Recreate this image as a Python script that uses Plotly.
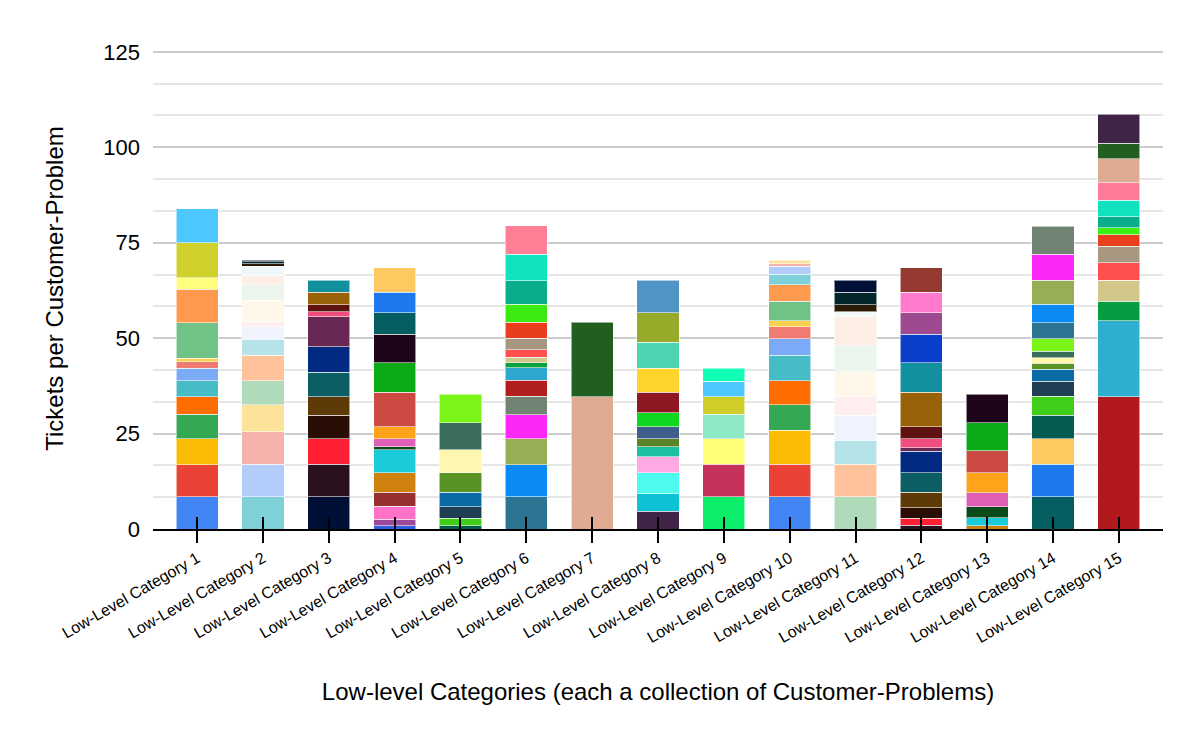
import plotly.graph_objects as go

categories = ['Low-Level Category %d' % i for i in range(1, 16)]

# segment sizes per category, bottom to top (one segment = one Customer-Problem)
cat1_vals = [8.5, 8.3, 6.9, 6.4, 4.5, 4.2, 3.3, 1.7, 0.9, 9.3, 8.8, 3.0, 9.2, 8.9]
cat2_vals = [8.5, 8.4, 8.6, 7.1, 6.2, 6.7, 4.2, 3.3, 1.3, 5.6, 4.1, 2.5, 2.3, 0.7, 0.5, 0.4]
cat3_vals = [8.5, 8.4, 6.8, 6.1, 4.8, 6.4, 6.7, 7.9, 1.3, 1.9, 3.2, 3.2]
cat4_vals = [0.9, 1.7, 3.3, 3.7, 5.2, 5.9, 0.9, 2.1, 3.1, 9.0, 7.8, 7.4, 5.7, 5.3, 6.4]
cat5_vals = [0.8, 2.0, 3.05, 3.75, 5.2, 5.9, 7.1, 7.5]
cat6_vals = [8.5, 8.3, 6.9, 6.2, 4.9, 4.2, 3.2, 1.4, 1.4, 2.0, 3.0, 4.1, 4.8, 6.1, 7.0, 7.4]
cat7_vals = [34.6, 19.6]
cat8_vals = [4.7, 4.6, 5.5, 4.1, 2.7, 2.0, 3.2, 3.7, 5.3, 6.3, 6.8, 7.8, 8.5]
cat9_vals = [8.5, 8.4, 6.8, 6.3, 4.6, 4.1, 3.4]
cat10_vals = [8.5, 8.4, 9.0, 6.7, 6.2, 6.7, 4.4, 3.1, 1.5, 5.2, 4.3, 2.7, 2.1, 0.7, 0.9]
cat11_vals = [8.5, 8.4, 6.4, 6.5, 4.8, 6.6, 6.8, 7.6, 1.3, 1.9, 3.2, 3.2]
cat12_vals = [1.0, 1.8, 2.8, 4.0, 5.2, 5.6, 0.9, 2.3, 3.2, 9.0, 7.8, 7.4, 5.7, 5.3, 6.4]
cat13_vals = [0.8, 2.2, 2.85, 3.65, 5.3, 5.7, 7.3, 7.5]
cat14_vals = [8.5, 8.4, 6.8, 6.1, 5.0, 3.9, 3.1, 1.6, 1.4, 1.8, 3.2, 4.2, 4.9, 6.3, 6.8, 7.3]
cat15_vals = [34.6, 19.9, 5.2, 5.5, 4.5, 4.4, 3.0, 1.8, 2.9, 4.3, 4.6, 6.3, 4.1, 7.5]

# segment colours, bottom to top
cat1_cols = ['#4285F4', '#EA4335', '#FBBC04', '#34A853', '#FF6D01', '#46BDC6', '#7BAAF7',
             '#F07B72', '#FCD04F', '#71C287', '#FF994D', '#FDFD7E', '#D0D12B', '#4DC8FF']
cat2_cols = ['#7ED1D8', '#B3CDFA', '#F6B3AE', '#FDE39A', '#B0DBBA', '#FFC39C', '#B5E3E8',
             '#EEF3FE', '#FFEEF0', '#FFF8EA', '#EBF5EE', '#FFEEE5', '#EEF7FA', '#2A1A06',
             '#03262A', '#000F35']
cat3_cols = ['#000F35', '#2A1120', '#FF1F35', '#2A0E06', '#5E3A07', '#0B5E64', '#012A80',
             '#672953', '#F04E7F', '#5E1212', '#9A6208', '#13909E']
cat4_cols = ['#2E5FE0', '#9D4A9B', '#FF72C8', '#96312F', '#D0820F', '#1ACBD8', '#0A4B1A',
             '#E060B8', '#FFA31A', '#CB4B42', '#0BAA17', '#1E0519', '#055E5F', '#1C7AEE',
             '#FFC961']
cat5_cols = ['#045C50', '#3FCF1A', '#1F3F55', '#0B6BA5', '#579425', '#FFF7B0', '#3A6E5B',
             '#7AF517']
cat6_cols = ['#2B7592', '#0A8AF5', '#98AE55', '#FC28F8', '#718473', '#B11E1E', '#2FA8CF',
             '#06A042', '#D0C789', '#FF4F4F', '#A79680', '#E83D1E', '#3CEB12', '#0AAE8B',
             '#10E3BE', '#FF7F96']
cat7_cols = ['#E0AB93', '#215E20']
cat8_cols = ['#402447', '#0EC2D6', '#4DFBEE', '#FFA8E1', '#1CC0A0', '#5A832A', '#3F5E8C',
             '#0FD61E', '#8D1723', '#FFD42C', '#4FD4B3', '#98AA2A', '#4F94C4']
cat9_cols = ['#0AEE6A', '#C7325A', '#FFFF78', '#8DE8C5', '#D0CF2A', '#4FC8FF', '#0FFDB4']
cat10_cols = ['#4285F4', '#EA4335', '#FBBC04', '#34A853', '#FF6D01', '#46BDC6', '#7BAAF7',
              '#F07B72', '#FCD04F', '#71C287', '#FF994D', '#7ED1D8', '#B3CDFA', '#F6B3AE',
              '#FDE39A']
cat11_cols = ['#B0DBBA', '#FFC39C', '#B5E3E8', '#EEF3FE', '#FFEEF0', '#FFF8EA', '#EBF5EE',
              '#FFEEE5', '#F2F9FB', '#2A1A06', '#03262A', '#000F35']
cat12_cols = ['#2A1120', '#FF1F35', '#2A0E06', '#5E3A07', '#0B5E64', '#012A80', '#672953',
              '#F04E7F', '#5E1212', '#9A6208', '#13909E', '#0A3FCC', '#9E4A90', '#FF7ACC',
              '#943A30']
cat13_cols = ['#D0820F', '#1ACBD8', '#0A4B1A', '#E060B8', '#FFA31A', '#CB4B42', '#0BAA17',
              '#1E0519']
cat14_cols = ['#055E5F', '#1C7AEE', '#FFC961', '#045C50', '#3FCF1A', '#1F3F55', '#0B6BA5',
              '#579425', '#FFF7B0', '#3A6E5B', '#7AF517', '#2B7592', '#0A8AF5', '#98AE55',
              '#FC28F8', '#718473']
cat15_cols = ['#B1191C', '#2FAFD0', '#069C42', '#D2C68A', '#FF4F4F', '#A89882', '#E83F1D',
              '#3FEE12', '#0AAE8A', '#10E2C0', '#FF7C98', '#E0AB93', '#215E20', '#402447']

bars = [
    (cat1_vals, cat1_cols), (cat2_vals, cat2_cols), (cat3_vals, cat3_cols),
    (cat4_vals, cat4_cols), (cat5_vals, cat5_cols), (cat6_vals, cat6_cols),
    (cat7_vals, cat7_cols), (cat8_vals, cat8_cols), (cat9_vals, cat9_cols),
    (cat10_vals, cat10_cols), (cat11_vals, cat11_cols), (cat12_vals, cat12_cols),
    (cat13_vals, cat13_cols), (cat14_vals, cat14_cols), (cat15_vals, cat15_cols),
]

font = 'Arial, Liberation Sans, sans-serif'

fig = go.Figure()
for cat, (vals, cols) in zip(categories, bars):
    for v, c in zip(vals, cols):
        fig.add_trace(go.Bar(
            x=[cat], y=[v], marker_color=c,
            marker_line=dict(color='rgba(255,255,255,0.55)', width=1),
            showlegend=False,
        ))

# invisible trace so the overlay axis (inside half of the ticks) gets drawn
fig.add_trace(go.Scatter(x=categories, y=[0] * len(categories), xaxis='x2',
                         mode='markers', marker=dict(opacity=0), showlegend=False,
                         hoverinfo='skip'))

fig.update_layout(
    barmode='stack',
    bargap=0.36,
    width=1200, height=742,
    margin=dict(l=145, r=45, t=40, b=221),
    plot_bgcolor='white',
    paper_bgcolor='white',
    font=dict(family=font, color='black'),
    xaxis=dict(
        range=[-0.67, 14.67],
        automargin=False,
        tickangle=-30,
        tickfont=dict(size=16),
        ticks='outside', ticklen=12, tickwidth=2, tickcolor='black',
        showline=True, linecolor='black', linewidth=2,
        title=dict(text='Low-level Categories (each a collection of Customer-Problems)',
                   font=dict(size=24), standoff=38),
    ),
    xaxis2=dict(
        overlaying='x', matches='x',
        ticks='inside', ticklen=12, tickwidth=2, tickcolor='black',
        showticklabels=False, showgrid=False, showline=False,
    ),
    yaxis=dict(
        range=[0, 126],
        tick0=0, dtick=25,
        automargin=False,
        tickfont=dict(size=22),
        ticklabelstandoff=12,
        showgrid=True, gridcolor='#cccccc', gridwidth=1.5,
        zeroline=False,
        minor=dict(tick0=0, dtick=25 / 3, showgrid=True, gridcolor='#e6e6e6', gridwidth=1.5),
        title=dict(text='Tickets per Customer-Problem', font=dict(size=24), standoff=32),
    ),
)

fig.write_html('out.html')
